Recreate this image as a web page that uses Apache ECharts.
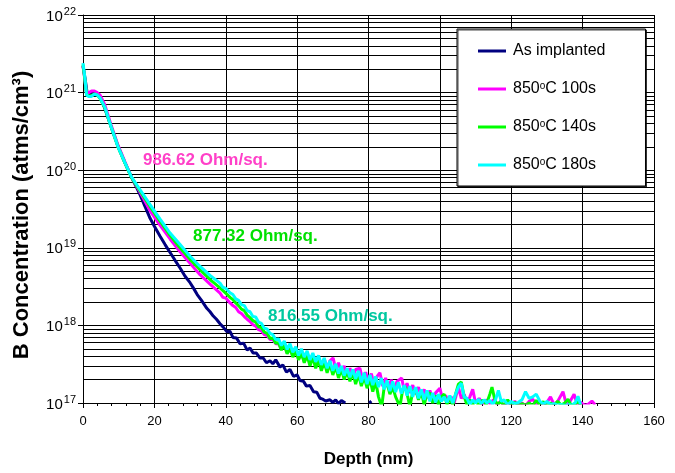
<!DOCTYPE html>
<html>
<head>
<meta charset="utf-8">
<script src="https://cdn.jsdelivr.net/npm/echarts@6/dist/echarts.min.js"></script>
<style>
html,body{margin:0;padding:0;background:#fff;}
#chart{width:675px;height:473px;}
</style>
</head>
<body>
<div id="chart"></div>
<script>
// ---------- DATA ----------
const seriesNames = ['As implanted', '850oC 100s', '850oC 140s', '850oC 180s'];
const xTicks = [0, 20, 40, 60, 80, 100, 120, 140, 160];
const yExponents = [17, 18, 19, 20, 21, 22];
const minorMultipliers = [2, 3, 4, 5, 6, 7, 8, 9];

const asDepth = [0,0.6,1.2,2.0,2.8,3.8,4.8,6.1,7.9,9.8,11.7,13.5,15.0,16.0,17.4,18.8,20.0,21.6,23.0,24.4,25.8,27.2,28.6,30.0,31.0,32.0,33.2,34.7,35.6,36.5,37.4,38.4,39.3,40.3,41.2,42.0,43.0,44.0,45.0,46.0,46.8,47.7,48.6,49.6,50.5,51.4,52.4,53.2,54.0,55.2,56.0,57.0,58.0,59.0,60.0,60.8,61.8,62.6,63.6,64.6,65.5,66.4,67.2,68.0,69.2,70.0,70.8,71.6,72.4,73.5,76.0,80.2,80.8];
const asConc = [2.2e21,1.5e21,9.5e20,9.8e20,1.02e21,1.0e21,8.7e20,6.3e20,3.6e20,2.04e20,1.26e20,8.3e19,6.0e19,4.8e19,3.4e19,2.4e19,1.9e19,1.41e19,1.1e19,8.7e18,6.9e18,5.5e18,4.3e18,3.55e18,3.0e18,2.5e18,2.1e18,1.66e18,1.5e18,1.32e18,1.2e18,1.05e18,9.5e17,8.3e17,8.4e17,7.0e17,6.9e17,5.8e17,5.9e17,4.8e17,5.1e17,4.4e17,4.4e17,3.8e17,3.8e17,3.3e17,3.5e17,3.2e17,3.6e17,2.9e17,3.1e17,2.5e17,2.7e17,2.2e17,2.3e17,1.95e17,1.9e17,1.65e17,1.68e17,1.4e17,1.38e17,1.15e17,1.12e17,1.06e17,1.1e17,1.02e17,1.1e17,9.8e16,1.08e17,1.0e17,null,1.0e17,1.06e17];

const d100Depth = [0,0.5,1.0,1.6,2.4,3.2,4.0,4.8,6.1,7.9,9.8,11.7,13.5,16.0,18.8,21.6,24.4,27.2,30.0,32.8,35.6,38.4,39.2,40.0,41.2,42.0,42.8,43.6,44.4,45.2,46.0,46.8,47.6,48.4,49.2,50.0,50.8,51.6,52.4,53.2,54.0,54.8,55.6,56.4,57.2,58.0,58.8,59.6,60.4,61.2,62.0,62.8,63.6,64.4,65.2,66.0,66.8,67.6,68.4,69.2,70.1,70.8,71.6,72.4,73.2,74.0,74.8,75.6,76.4,77.6,78.4,79.2,80.0,80.8,81.6,82.4,83.2,84.0,84.8,85.6,86.4,87.2,88.0,89.3,90.0,90.8,91.6,92.4,93.2,94.0,94.8,95.6,96.4,97.2,98.0,98.8,100.0,100.8,101.6,102.4,103.2,104.0,105.2,106.0,106.8,107.6,108.4,109.2,110.0,111.0,112.0,113.0,114.0,115.0,116.0,117.0,118.0,119.0,120.0,121.0,122.0,123.0,124.0,125.0,126.0,127.0,128.0,129.0,130.0,131.0,132.0,133.0,134.5,135.5,136.5,137.6,138.5,139.5,140.5,141.5,142.6,143.5];
const d100Conc = [2.2e21,1.5e21,9.6e20,1.0e21,1.05e21,1.05e21,1.0e21,9.3e20,7.0e20,3.8e20,2.1e20,1.3e20,8.3e19,5.2e19,3.0e19,1.95e19,1.3e19,8.9e18,6.3e18,4.5e18,3.4e18,2.6e18,2.3e18,2.25e18,1.95e18,1.8e18,1.7e18,1.5e18,1.42e18,1.3e18,1.2e18,1.12e18,1.02e18,9.8e17,8.8e17,8.5e17,7.6e17,7.4e17,6.6e17,6.6e17,5.8e17,5.8e17,4.9e17,5.8e17,4.4e17,5.2e17,4.0e17,4.9e17,3.7e17,4.6e17,3.4e17,4.2e17,3.2e17,4.0e17,3.0e17,3.8e17,2.9e17,3.7e17,2.8e17,3.5e17,3.8e17,2.7e17,3.3e17,2.5e17,3.0e17,2.25e17,2.8e17,2.15e17,2.7e17,2.8e17,1.95e17,2.5e17,1.85e17,2.4e17,1.7e17,2.2e17,2.45e17,1.65e17,2.1e17,1.55e17,2.0e17,1.5e17,1.9e17,2.1e17,1.45e17,1.8e17,1.35e17,1.7e17,1.3e17,1.6e17,1.25e17,1.5e17,1.15e17,1.45e17,1.1e17,1.35e17,1.55e17,1.1e17,1.25e17,1.05e17,1.2e17,1.0e17,1.6e17,1.15e17,1.3e17,1.0e17,1.2e17,1.5e17,1.0e17,1.15e17,9.5e16,1.1e17,9.8e16,1.1e17,9.5e16,1.05e17,9.2e16,1.02e17,9.4e16,1.05e17,9.3e16,1.0e17,9.2e16,1.05e17,1.12e17,9.6e16,1.04e17,9.3e16,1.02e17,1.2e17,9.5e16,1.05e17,1.4e17,9.4e16,1.05e17,1.3e17,9.5e16,1.02e17,9.3e16,9.6e16,1.06e17,9.5e16];

const d140Depth = [0,0.5,1.0,2.0,3.2,4.0,4.8,6.1,7.9,9.8,11.7,13.5,16.0,18.8,21.6,24.4,27.2,30.0,32.8,35.6,38.4,39.6,40.4,41.2,42.0,42.8,43.6,44.4,45.2,46.0,46.8,47.6,48.4,49.2,50.0,50.8,51.6,52.4,53.2,54.0,54.8,55.6,56.4,57.2,58.0,58.8,59.6,60.4,61.2,62.0,62.8,63.6,64.4,65.2,66.0,66.8,67.6,68.4,69.2,70.0,70.8,71.6,72.4,73.2,74.0,74.8,75.6,76.4,77.2,78.0,78.8,79.6,80.4,81.2,82.0,82.8,83.7,84.4,85.2,86.0,86.8,87.6,88.8,89.6,90.4,91.0,91.6,92.4,93.2,94.0,94.8,95.6,96.4,97.2,98.0,98.8,99.6,100.4,101.2,102.0,102.8,103.6,104.4,105.2,106.0,106.8,107.6,108.4,109.2,110.0,111.0,112.0,113.0,114.0,114.6,115.4,116.2,117.0,118.0,119.0,120.0,121.0,122.0,123.0,124.0,125.0,126.0,127.0,128.0,129.0,130.0,131.0,132.0,133.0,134.0,135.0,135.9,136.8,137.8,138.7,139.5];
const d140Conc = [2.3e21,1.5e21,9.3e20,9.0e20,9.6e20,9.3e20,8.4e20,6.4e20,3.6e20,2.0e20,1.25e20,8.2e19,5.4e19,3.4e19,2.2e19,1.45e19,1.0e19,7.1e18,5.2e18,3.9e18,3.05e18,2.7e18,2.5e18,2.3e18,2.15e18,1.95e18,1.8e18,1.62e18,1.55e18,1.35e18,1.26e18,1.15e18,1.1e18,9.6e17,9.4e17,8.2e17,7.9e17,6.8e17,6.9e17,5.9e17,6.0e17,4.8e17,5.6e17,4.3e17,5.1e17,3.9e17,4.7e17,3.6e17,4.4e17,3.3e17,4.1e17,3.0e17,3.9e17,2.8e17,3.6e17,2.6e17,3.4e17,2.45e17,3.2e17,2.3e17,2.95e17,2.1e17,2.75e17,2.0e17,2.6e17,1.9e17,2.5e17,1.75e17,2.35e17,1.65e17,2.2e17,1.55e17,2.05e17,1.4e17,1.9e17,1.2e17,9.0e16,1.6e17,1.8e17,1.3e17,1.6e17,1.2e17,9.0e16,1.5e17,1.6e17,1.2e17,9.0e16,1.4e17,1.5e17,1.1e17,1.4e17,9.5e16,1.3e17,1.35e17,1.0e17,1.25e17,9.5e16,1.2e17,1.3e17,9.6e16,1.15e17,9.4e16,1.3e17,1.75e17,1.86e17,1.2e17,9.5e16,1.1e17,9.6e16,1.05e17,9.3e16,1.1e17,9.5e16,1.3e17,1.6e17,1.1e17,9.4e16,1.05e17,9.2e16,1.1e17,9.3e16,1.02e17,9.2e16,9.8e16,9.3e16,1.0e17,9.2e16,1.08e17,9.4e16,1.04e17,9.2e16,1.0e17,9.3e16,1.05e17,9.4e16,1.0e17,1.12e17,9.3e16,9.6e16,1.04e17,9.4e16];

const d180Depth = [0,0.5,1.0,1.6,2.3,3.2,4.0,4.8,6.1,7.9,9.8,11.7,13.5,16.0,18.8,21.6,24.4,27.2,30.0,32.8,35.6,38.4,39.2,40.0,41.2,42.0,42.8,43.6,44.4,45.2,46.0,46.8,47.6,48.4,49.2,50.0,50.8,51.6,52.4,53.2,54.0,54.8,55.6,56.4,57.2,58.0,58.8,59.6,60.4,61.2,62.0,62.8,63.6,64.4,65.2,66.0,66.8,67.6,68.4,69.2,70.0,70.8,71.6,72.4,73.2,74.0,74.8,75.6,76.4,77.2,78.0,78.8,79.6,80.4,81.2,82.0,82.8,83.6,84.4,85.2,86.0,86.8,87.6,88.4,89.2,90.0,90.8,91.6,92.4,93.2,94.0,94.8,95.6,96.4,97.2,98.0,98.8,99.6,100.4,101.2,102.0,102.8,103.6,104.4,105.2,106.0,106.8,107.6,108.4,109.2,110.0,110.8,111.6,112.4,113.2,114.0,114.8,115.6,116.4,117.2,118.0,119.0,120.0,121.0,122.0,123.0,124.0,125.0,126.0,127.0,128.0,129.0,130.0,131.0,132.0,133.0,134.0,135.0,136.0,137.0,138.0,138.7,139.4];
const d180Conc = [2.4e21,1.6e21,9.3e20,8.9e20,8.9e20,9.5e20,9.3e20,8.5e20,6.5e20,3.6e20,2.0e20,1.26e20,8.3e19,5.6e19,3.6e19,2.34e19,1.55e19,1.1e19,7.8e18,5.75e18,4.4e18,3.5e18,3.1e18,3.0e18,2.63e18,2.5e18,2.2e18,2.1e18,1.85e18,1.8e18,1.55e18,1.5e18,1.3e18,1.28e18,1.1e18,1.06e18,9.2e17,9.0e17,7.9e17,7.6e17,6.6e17,6.7e17,5.5e17,6.3e17,4.9e17,5.8e17,4.5e17,5.3e17,4.1e17,5.0e17,3.9e17,4.7e17,3.6e17,4.4e17,3.4e17,4.1e17,3.1e17,3.8e17,2.8e17,3.5e17,2.6e17,3.2e17,2.4e17,3.0e17,2.25e17,2.8e17,2.15e17,2.7e17,2.05e17,2.6e17,1.85e17,2.45e17,1.75e17,2.3e17,1.7e17,2.2e17,1.6e17,2.1e17,1.5e17,1.95e17,1.42e17,1.9e17,1.38e17,1.85e17,1.32e17,1.7e17,1.25e17,1.65e17,1.2e17,1.6e17,1.15e17,1.5e17,1.1e17,1.45e17,1.05e17,1.35e17,1.02e17,1.3e17,1.05e17,1.2e17,1.02e17,1.25e17,1.0e17,1.3e17,1.6e17,1.8e17,1.2e17,1.15e17,9.5e16,1.1e17,1.0e17,1.12e17,9.8e16,1.1e17,1.0e17,1.08e17,9.6e16,1.1e17,1.45e17,1.05e17,1.1e17,9.5e16,1.05e17,9.7e16,1.02e17,1.1e17,1.4e17,1.15e17,1.2e17,1.3e17,1.06e17,9.7e16,1.05e17,9.5e16,9.8e16,9.4e16,9.6e16,9.3e16,9.5e16,9.4e16,1.02e17,1.22e17,9.6e16];

const annotations = ['986.62 Ohm/sq.', '877.32 Ohm/sq.', '816.55 Ohm/sq.'];

// ---------- CHART ----------
const FONT = '"Liberation Sans", Arial, sans-serif';
function zip(xs, ys) { return xs.map((x, i) => [x, ys[i]]); }

const gridLines = [];
yExponents.slice(0, -1).forEach(e => {
  minorMultipliers.forEach(m => gridLines.push({ yAxis: m * Math.pow(10, e) }));
});

const colors = ['#000080', '#ff00ff', '#00ff00', '#00ffff'];
const depths = [asDepth, d100Depth, d140Depth, d180Depth];
const concs = [asConc, d100Conc, d140Conc, d180Conc];

const series = [{
  name: 'grid',
  type: 'line',
  data: [],
  z: 1,
  silent: true,
  markLine: {
    z: 1,
    silent: true,
    symbol: 'none',
    animation: false,
    label: { show: false },
    lineStyle: { color: '#000', width: 1, type: 'solid' },
    emphasis: { disabled: true },
    data: gridLines
  }
}];
seriesNames.forEach((n, i) => {
  series.push({
    name: n,
    type: 'line',
    data: zip(depths[i], concs[i]),
    showSymbol: false,
    symbol: 'none',
    connectNulls: false,
    clip: true,
    z: 3 + i,
    lineStyle: { color: colors[i], width: 3 },
    itemStyle: { color: colors[i] },
    emphasis: { disabled: true }
  });
});

const chart = echarts.init(document.getElementById('chart'), null, { renderer: 'canvas' });
chart.setOption({
  animation: false,
  backgroundColor: '#fff',
  textStyle: { fontFamily: FONT },
  grid: { left: 83, right: 21, top: 15, bottom: 69, containLabel: false },
  xAxis: {
    type: 'value', min: xTicks[0], max: xTicks[xTicks.length - 1], interval: 20,
    axisLine: { show: true, lineStyle: { color: '#000', width: 1 } },
    axisTick: { show: true, length: 5, lineStyle: { color: '#000' } },
    minorTick: { show: true, splitNumber: 5, length: 3, lineStyle: { color: '#000' } },
    splitLine: { show: true, lineStyle: { color: '#000', width: 1 } },
    axisLabel: { color: '#000', fontSize: 13, margin: 12, fontFamily: FONT,
      formatter: v => String(xTicks[xTicks.indexOf(v)]) },
    name: 'Depth (nm)', nameLocation: 'middle', nameGap: 48,
    nameTextStyle: { color: '#000', fontWeight: 'bold', fontSize: 17, fontFamily: FONT }
  },
  yAxis: {
    type: 'log', logBase: 10, min: 1e17, max: 1e22,
    axisLine: { show: true, lineStyle: { color: '#000', width: 1 } },
    axisTick: { show: true, length: 5, lineStyle: { color: '#000' } },
    splitLine: { show: true, lineStyle: { color: '#000', width: 1 } },
    axisLabel: {
      color: '#000', margin: 7, fontFamily: FONT,
      formatter: v => {
        const e = Math.round(Math.log10(v));
        const lab = yExponents.indexOf(e) >= 0 ? yExponents[yExponents.indexOf(e)] : e;
        return '{b|10}{s|' + lab + '}';
      },
      rich: {
        b: { fontSize: 15, color: '#000', fontFamily: FONT, lineHeight: 18, verticalAlign: 'bottom' },
        s: { fontSize: 11, color: '#000', fontFamily: FONT, lineHeight: 18, verticalAlign: 'top', padding: [0, 0, 7, 1] }
      }
    },
    name: 'B Concentration (atms/cm³)', nameLocation: 'middle', nameGap: 50,
    nameTextStyle: { color: '#000', fontWeight: 'bold', fontSize: 22, fontFamily: FONT, padding: [0, 12, 0, 0] }
  },
  legend: {
    data: seriesNames,
    orient: 'vertical',
    left: 457, top: 29,
    padding: [14, 40, 13, 21],
    itemGap: 22,
    itemWidth: 28, itemHeight: 3,
    icon: 'rect',
    backgroundColor: '#fff',
    borderColor: '#000', borderWidth: 1,
    shadowColor: 'rgba(0,0,0,0.7)', shadowOffsetX: 1, shadowOffsetY: 1, shadowBlur: 0,
    selectedMode: false,
    formatter: name => name.replace('850oC', '850{sup|o}C'),
    textStyle: {
      color: '#000', fontSize: 16, fontFamily: FONT, padding: [0, 0, 0, 2],
      rich: {
        sup: { fontSize: 10, color: '#000', fontFamily: FONT, verticalAlign: 'top', padding: [0, 0, 6, 0] }
      }
    }
  },
  graphic: [
    { type: 'text', x: 143, y: 160, silent: true, z: 100,
      style: { text: annotations[0], fill: '#ff40c8', font: 'bold 17px ' + FONT, verticalAlign: 'middle' } },
    { type: 'text', x: 193, y: 236, silent: true, z: 100,
      style: { text: annotations[1], fill: '#00e000', font: 'bold 17px ' + FONT, verticalAlign: 'middle' } },
    { type: 'text', x: 268, y: 316, silent: true, z: 100,
      style: { text: annotations[2], fill: '#00c8a0', font: 'bold 17px ' + FONT, verticalAlign: 'middle' } }
  ],
  series: series
});
</script>
</body>
</html>
